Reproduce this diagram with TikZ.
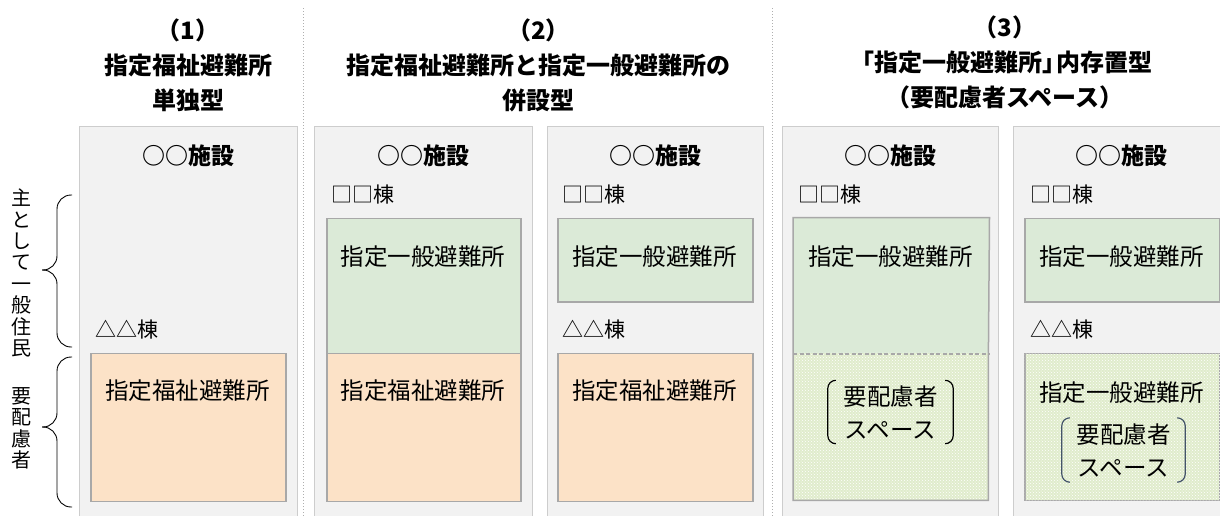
\documentclass[tikz,border=0pt]{standalone}
\usepackage{fontspec}
\setmainfont{Noto Sans CJK JP}
\usetikzlibrary{patterns}
\definecolor{panelfill}{RGB}{242,242,242}
\definecolor{panelline}{RGB}{205,205,205}
\definecolor{boxline}{RGB}{168,168,168}
\definecolor{greenfill}{RGB}{219,234,215}
\definecolor{orangefill}{RGB}{252,226,199}
\definecolor{patfill}{RGB}{224,236,204}
\definecolor{sepline}{RGB}{175,175,175}
\definecolor{brk}{RGB}{68,84,106}
\newcommand\fhead{\fontsize{24}{35}\selectfont\bfseries}
\newcommand\ffac{\fontsize{23}{28}\selectfont\bfseries}
\newcommand\fbody{\fontsize{23.5}{33}\selectfont}
\newcommand\flab{\fontsize{21}{25}\selectfont}
\newcommand\fside{\fontsize{20}{21.4}\selectfont}
\begin{document}
\begin{tikzpicture}[x=1pt,y=-1pt,
  panel/.style={draw=panelline, fill=panelfill, line width=1.3pt, inner sep=0pt, anchor=north west, minimum height=400pt},
  gbox/.style={draw=boxline, fill=greenfill, line width=1.5pt, inner sep=0pt, anchor=north west},
  obox/.style={draw=boxline, fill=orangefill, line width=1.5pt, inner sep=0pt, anchor=north west},
  pbox/.style={fill=patfill, inner sep=0pt, anchor=north west, postaction={pattern=crosshatch dots, pattern color=white}},
  hdr/.style={align=center, inner sep=0pt, font=\fhead},
  fac/.style={inner sep=0pt, font=\ffac},
  lab/.style={inner sep=0pt, anchor=west, font=\flab},
  body/.style={inner sep=0pt, align=center, font=\fbody},
  side/.style={inner sep=0pt, align=center, font=\fside},
  sep/.style={draw=sepline, dotted, line width=1pt},
  outline/.style={draw=boxline, line width=1.5pt},
  brace/.style={draw=black, line width=0.9pt, rounded corners=14pt},
  bracketpair/.style={line width=1.2pt, rounded corners=8pt}
]
\useasboundingbox (0,0) rectangle (1220,515);
\fill[white] (0,0) rectangle (1220,515);

% separators
\coordinate (s1t) at (303,8); \coordinate (s1b) at (303,520);
\coordinate (s2t) at (772,8); \coordinate (s2b) at (772,520);
\draw[sep] (s1t) -- (s1b);
\draw[sep] (s2t) -- (s2b);

% panels
\node[panel, minimum width=218pt] (p1) at (79,126) {};
\node[panel, minimum width=217.5pt] (p2a) at (314,126) {};
\node[panel, minimum width=216.5pt] (p2b) at (546.5,126) {};
\node[panel, minimum width=216.5pt] (p3a) at (781.5,126) {};
\node[panel, minimum width=217pt] (p3b) at (1013,126) {};

% inner boxes
\node[obox, minimum width=195pt, minimum height=148pt] (o1) at (90,352.7) {};
\node[gbox, minimum width=194pt, minimum height=135pt] (g2a) at (326,217.7) {};
\node[obox, minimum width=194pt, minimum height=148pt] (o2a) at (326,352.7) {};
\node[gbox, minimum width=195pt, minimum height=83.3pt] (g2b) at (557,217.7) {};
\node[obox, minimum width=195pt, minimum height=148pt] (o2b) at (557,352.7) {};
\node[gbox, draw=none, minimum width=195pt, minimum height=135pt] (g3a) at (793,217.7) {};
\node[pbox, minimum width=195pt, minimum height=147.3pt] (q3a) at (793,352.7) {};
\draw[outline] (q3a.north west) -- (q3a.south west) -- (q3a.south east) -- (q3a.north east) -- (g3a.north east) -- (g3a.north west) -- cycle;
\draw[outline, dash pattern=on 4pt off 2.5pt] (g3a.south west) -- (g3a.south east);
\node[gbox, minimum width=195pt, minimum height=83.3pt] (g3b) at (1024,217.7) {};
\node[pbox, draw=boxline, line width=1.5pt, minimum width=195pt, minimum height=147pt] (q3b) at (1024,352.7) {};

% headers
\node[hdr] (h1) at (188,65) {（1）\\指定福祉避難所\\単独型};
\node[hdr] (h2) at (538.5,65) {（2）\\指定福祉避難所と指定一般避難所の\\併設型};
\node[hdr] (h3) at (1005,62) {（3）\\\kern-0.3em「指定一般避難所」\kern-0.45em 内存置型\\（要配慮者スペース）};

% facility names
\node[fac] (f1) at (188,156) {○○施設};
\node[fac] (f2a) at (423,156) {○○施設};
\node[fac] (f2b) at (655,156) {○○施設};
\node[fac] (f3a) at (890,156) {○○施設};
\node[fac] (f3b) at (1121,156) {○○施設};

% building labels
\node[lab] (b2a) at (331,195) {□□棟};
\node[lab] (b2b) at (562,195) {□□棟};
\node[lab] (b3a) at (798,195) {□□棟};
\node[lab] (b3b) at (1030,195) {□□棟};
\node[lab] (t1) at (95,330) {△△棟};
\node[lab] (t2b) at (562,330) {△△棟};
\node[lab] (t3b) at (1030,330) {△△棟};

% box texts
\node[body] (x2a) at (423,257) {指定一般避難所};
\node[body] (x2b) at (654.5,257) {指定一般避難所};
\node[body] (x3a) at (890.5,257) {指定一般避難所};
\node[body] (x3b) at (1121.5,257) {指定一般避難所};
\node[body] (y1) at (187.5,391) {指定福祉避難所};
\node[body] (y2a) at (423,391) {指定福祉避難所};
\node[body] (y2b) at (654.5,391) {指定福祉避難所};
\node[body] (z3b) at (1121.5,393) {指定一般避難所};

% special-needs space texts with bracket pairs
\node[body, minimum width=125pt, minimum height=63pt] (sp3a) at (890.5,412) {要配慮者\\スペース};
\draw[bracketpair, black] ([xshift=8pt]sp3a.north west) -- (sp3a.north west) -- (sp3a.south west) -- ([xshift=8pt]sp3a.south west);
\draw[bracketpair, black] ([xshift=-8pt]sp3a.north east) -- (sp3a.north east) -- (sp3a.south east) -- ([xshift=-8pt]sp3a.south east);
\node[body, minimum width=123pt, minimum height=64pt] (sp3b) at (1123.5,450) {要配慮者\\スペース};
\draw[bracketpair, brk] ([xshift=8pt]sp3b.north west) -- (sp3b.north west) -- (sp3b.south west) -- ([xshift=8pt]sp3b.south west);
\draw[bracketpair, brk] ([xshift=-8pt]sp3b.north east) -- (sp3b.north east) -- (sp3b.south east) -- ([xshift=-8pt]sp3b.south east);

% side labels and braces
\node[side] (sl1) at (22,273) {主\\と\\し\\て\\一\\般\\住\\民};
\node[side] (sl2) at (22,428.5) {要\\配\\慮\\者};
\draw[brace] (72,195) -- (57,195) -- (57,270) -- (42,270);
\draw[brace] (42,270) -- (57,270) -- (57,347) -- (72,347);
\draw[brace] (72,357) -- (57,357) -- (57,427) -- (42,427);
\draw[brace] (42,427) -- (57,427) -- (57,507) -- (72,507);
\end{tikzpicture}
\end{document}
